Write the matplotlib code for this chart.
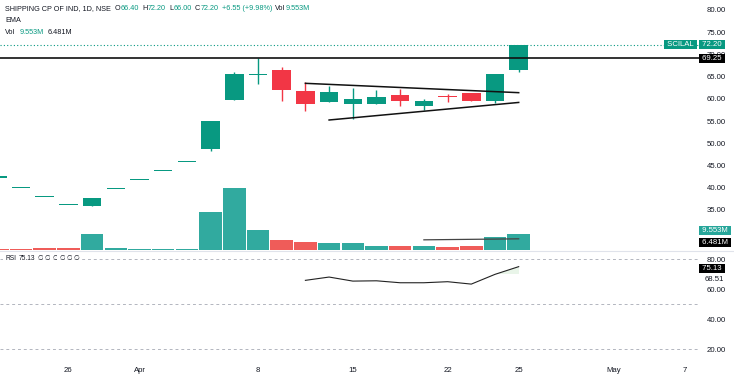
import matplotlib.pyplot as plt
import matplotlib.transforms as mtransforms

plt.rcParams['font.family'] = ['Liberation Sans', 'DejaVu Sans']

# daily bars (trading days only)
dates = ['Mar 20', 'Mar 21', 'Mar 22', 'Mar 26', 'Mar 27', 'Mar 28', 'Apr 1', 'Apr 2', 'Apr 3',
         'Apr 4', 'Apr 5', 'Apr 8', 'Apr 9', 'Apr 10', 'Apr 12', 'Apr 15', 'Apr 16', 'Apr 18',
         'Apr 19', 'Apr 22', 'Apr 23', 'Apr 24', 'Apr 25']
opens = [42.3, 39.9, 37.9, 36.1, 35.8, 39.65, 41.7, 43.7, 45.7, 48.8, 59.75, 65.35, 66.5, 61.8,
         59.3, 58.8, 58.9, 60.9, 58.3, 60.6, 61.3, 59.5, 66.4]
highs = [42.3, 39.9, 37.9, 36.1, 37.8, 39.65, 41.7, 43.7, 45.7, 55.0, 66.1, 69.1, 67.2, 63.9,
         62.9, 62.45, 62.0, 62.2, 60.0, 61.1, 61.3, 65.65, 72.2]
lows = [42.3, 39.9, 37.9, 36.1, 35.8, 39.65, 41.7, 43.7, 45.7, 48.3, 59.75, 63.3, 59.5, 57.35,
        59.3, 55.5, 58.9, 58.5, 57.4, 59.4, 59.5, 59.1, 66.0]
closes = [42.3, 39.9, 37.9, 36.1, 37.8, 39.65, 41.7, 43.7, 45.7, 55.0, 65.6, 65.7, 62.0, 58.85,
          61.5, 60.0, 60.5, 59.5, 59.5, 60.4, 59.5, 65.65, 72.2]
volume_m = [0.7, 0.7, 1.45, 1.3, 9.0, 0.9, 0.5, 0.5, 0.5, 22.3, 36.0, 11.5, 5.7, 4.5, 4.3, 3.8,
            2.6, 2.6, 2.4, 2.0, 2.6, 7.8, 9.553]
volume_up = [0, 0, 0, 0, 1, 1, 1, 1, 1, 1, 1, 1, 0, 0, 1, 1, 1, 0, 1, 0, 0, 1, 1]

# RSI, visible from Apr 10
rsi_start = 13
rsi = [66.0, 68.2, 65.5, 65.7, 64.4, 64.4, 65.1, 63.5, 70.0, 75.13]
rsi_ma_last = 68.51

# drawings: (bar index, price)
upper_trend = [(13, 63.5), (22, 61.4)]
lower_trend = [(14, 55.25), (22, 59.2)]
hline_price = 69.25
vol_line = [(18, 5.9), (22, 6.481)]

tick_pos = [3, 6, 11, 15, 19, 22, 26, 29]
tick_labels = ['26', 'Apr', '8', '15', '22', '25', 'May', '7']
price_ticks = [35, 40, 45, 50, 55, 60, 65, 70, 75, 80]
rsi_ticks = [20, 40, 60, 80]

UP = '#089981'
DN = '#f23645'
VUP = '#26a69a'
VDN = '#ef5350'
TXT = '#131722'

W, H = 734, 375
fig = plt.figure(figsize=(W / 100, H / 100), dpi=100)
renderer = fig.canvas.get_renderer()


def rect(left, top, right, bottom):
    return [left / W, 1 - bottom / H, (right - left) / W, (bottom - top) / H]


axv = fig.add_axes(rect(0, 0, 700, 250))
ax = fig.add_axes(rect(0, 0, 700, 250), sharex=axv)
ax.patch.set_alpha(0)
axr = fig.add_axes(rect(0, 252, 700, 357), sharex=axv)

x = list(range(len(dates)))

# volume
axv.bar(x, [v * 1e6 for v in volume_m], width=0.95,
        color=[VUP if u else VDN for u in volume_up], alpha=0.95)
axv.plot([p[0] for p in vol_line], [p[1] * 1e6 for p in vol_line], color='#444444', lw=0.9)
axv.set_ylim(0, 145e6)
axv.axis('off')

# candles
for i in x:
    c = UP if closes[i] >= opens[i] else DN
    ax.vlines(i, lows[i], highs[i], color=c, lw=1)
    lo = min(opens[i], closes[i])
    h = max(abs(closes[i] - opens[i]), 0.25)
    ax.bar(i, h, bottom=lo, width=0.78, color=c)

ax.axhline(hline_price, color='#111111', lw=1.2)
ax.axhline(closes[-1], color=UP, lw=0.8, ls=(0, (1, 2)))
ax.plot([p[0] for p in upper_trend], [p[1] for p in upper_trend], color='#111111', lw=1.1)
ax.plot([p[0] for p in lower_trend], [p[1] for p in lower_trend], color='#111111', lw=1.1)

ax.set_xlim(0.114, 29.65)
ax.set_ylim(26.0, 82.25)
ax.set_yticks(price_ticks)
ax.set_yticklabels(['%.2f' % t for t in price_ticks])
ax.yaxis.tick_right()
ax.tick_params(axis='y', length=0, pad=5, labelsize=5.6, labelcolor=TXT)
ax.tick_params(axis='x', bottom=False, labelbottom=False)
for s in ax.spines.values():
    s.set_visible(False)

# RSI pane
ri = list(range(rsi_start, rsi_start + len(rsi)))
axr.plot(ri, rsi, color='#222222', lw=0.8)
axr.fill_between(ri, 70, rsi, where=[v > 70 for v in rsi], interpolate=True,
                 color='#4caf50', alpha=0.12, lw=0)
for lvl in (80, 50, 20):
    axr.axhline(lvl, color='#b2b5be', lw=0.7, ls=(0, (3, 3)))
axr.set_ylim(14.9, 84.9)
axr.set_yticks(rsi_ticks)
axr.set_yticklabels(['%.2f' % t for t in rsi_ticks])
axr.yaxis.tick_right()
axr.tick_params(axis='y', length=0, pad=5, labelsize=5.6, labelcolor=TXT)
axr.set_xticks(tick_pos)
axr.set_xticklabels(tick_labels)
axr.tick_params(axis='x', length=0, pad=7, labelsize=5.6, labelcolor=TXT)
for s in axr.spines.values():
    s.set_visible(False)

fig.add_artist(plt.Line2D([0, 1], [1 - 251 / H, 1 - 251 / H], color='#e0e3eb', lw=0.8))


# right-axis value boxes
def tag(a, y, s, fc, dy=0, left=True, xpos=1.0):
    tr = mtransforms.blended_transform_factory(a.transAxes, a.transData)
    a.annotate(' %s ' % s, (xpos, y), xycoords=tr, xytext=(0, dy), textcoords='offset points',
               ha='left' if left else 'right', va='center', fontsize=5.6, color='white',
               bbox=dict(boxstyle='square,pad=0.12', fc=fc, ec='none'),
               annotation_clip=False, zorder=10)


tag(ax, closes[-1], '%.2f' % closes[-1], UP)
tag(ax, closes[-1], 'SCILAL', UP, left=False, xpos=0.994)
tag(ax, hline_price, '%.2f' % hline_price, '#000000', dy=-0.5)
tag(axv, volume_m[-1] * 1e6, '%.3fM' % volume_m[-1], VUP, dy=2)
tag(axv, vol_line[-1][1] * 1e6, '%.3fM' % vol_line[-1][1], '#000000', dy=-2.5)
tag(axr, rsi[-1], '%.2f' % rsi[-1], '#000000', dy=-1.5)
trr = mtransforms.blended_transform_factory(axr.transAxes, axr.transData)
axr.annotate('%.2f' % rsi_ma_last, (1.007, rsi_ma_last), xycoords=trr, xytext=(0, -2.2),
             textcoords='offset points', va='center', fontsize=5.6, color=TXT,
             annotation_clip=False)


# legend header: pieces laid out one after another
def chain(px, py, parts, size=5.2, **kw):
    for s, c, gap in parts:
        tx = fig.text(px / W, 1 - py / H, s, color=c, fontsize=size, va='center', **kw)
        px += tx.get_window_extent(renderer).width + gap


chg = closes[-1] - closes[-2]
chain(5, 9, [('SHIPPING CP OF IND, 1D, NSE', TXT, 4),
             ('O', TXT, 0.5), ('%.2f' % opens[-1], UP, 3),
             ('H', TXT, 0.5), ('%.2f' % highs[-1], UP, 3),
             ('L', TXT, 0.5), ('%.2f' % lows[-1], UP, 3),
             ('C', TXT, 0.5), ('%.2f' % closes[-1], UP, 3),
             ('+%.2f (+%.2f%%)' % (chg, chg / closes[-2] * 100), UP, 3),
             ('Vol', TXT, 0.5), ('%.3fM' % volume_m[-1], UP, 0)])
chain(5, 21, [('EMA', TXT, 0)])
chain(5, 33, [('Vol', TXT, 4), ('%.3fM' % volume_m[-1], UP, 4),
              ('%.3fM' % vol_line[-1][1], TXT, 0)])
chain(5, 259, [('RSI', TXT, 2.5), ('%.2f' % rsi[-1], TXT, 2.5)] +
      [('∅', TXT, 1.5)] * 6, size=4.8,
      bbox=dict(boxstyle='square,pad=0.3', fc='white', ec='none'))

fig.savefig('out.png', dpi=100)
